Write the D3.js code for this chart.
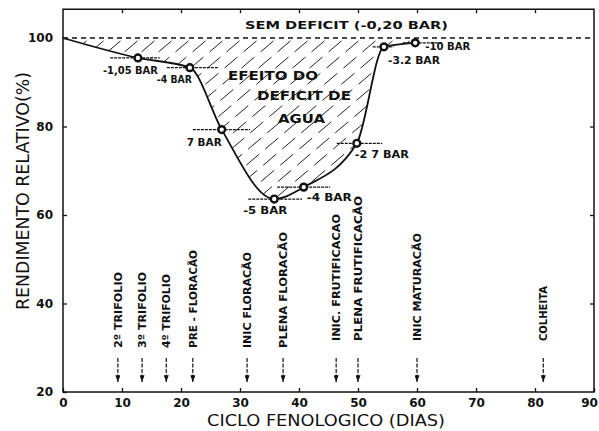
<!DOCTYPE html>
<html>
<head>
<meta charset="utf-8">
<script src="https://cdn.jsdelivr.net/npm/d3@7"></script>
<style>
  body { margin: 0; background: #fff; }
  svg { display: block; }
  text { font-family: "DejaVu Sans", sans-serif; fill: #111; }
</style>
</head>
<body>
<svg id="canvas" width="599" height="431"></svg>
<script>
// curva de rendimento relativo x ciclo (dias)
const dias = [0, 12.7, 21.5, 26.9, 35.8, 40.8, 49.8, 54.4, 59.7]
const rendimento = [100, 95.5, 93.3, 79.3, 63.6, 66.3, 76.2, 98.0, 98.9]
const potencial = ["", "-1,05 BAR", "-4 BAR", "7 BAR", "-5 BAR", "-4 BAR", "-2 7 BAR", "-3.2 BAR", "-10 BAR"]
const faixaIni = [null, 8.0, 17.6, 22.0, 31.4, 36.3, 46.4, 52.5, 57.6]
const faixaFim = [null, 16.4, 26.3, 31.7, 40.5, 45.3, 54.1, 56.0, 64.2]

// estadios fenologicos
const estadioDia = [9.3, 13.4, 17.5, 22.0, 31.2, 37.3, 46.3, 50.0, 60.0, 81.4]
const estadioNome = ["2º TRIFOLIO", "3º TRIFOLIO", "4º TRIFOLIO", "PRE - FLORACÃO", "INIC FLORACÃO",
    "PLENA FLORACÃO", "INIC. FRUTIFICACAO", "PLENA FRUTIFICACÃO", "INIC MATURACÃO", "COLHEITA"]

const xTicks = [0, 10, 20, 30, 40, 50, 60, 70, 80, 90]
const yTicks = [20, 40, 60, 80, 100]

// layout of the labels (offsets from the point, text widths)
const labelLayout = [null, [-7.5, 16, 55], [-15.5, 15, 35], [-17.5, 16, 35], [-9, 15, 44],
    [25.5, 14, 45], [25, 15, 54], [30, 17, 52], [32.5, 7, 45]]
const stageLen = [76, 76, 74, 98, 96, 116, 127, 145, 108, 55]

const svg = d3.select("#canvas")

const x = d3.scaleLinear().domain([0, 90]).range([63, 594])
const y = d3.scaleLinear().domain([20, 100]).range([392, 38])
const yTop = 106.5

const pts = dias.map((d, i) => ({ d: d, v: rendimento[i], i: i }))

// hatch region
svg.append("clipPath").attr("id", "clipDef")
    .append("path")
    .attr("d", d3.area().curve(d3.curveMonotoneX)
        .x(p => x(p.d)).y0(y(100)).y1(p => y(p.v))(pts))

const hatch = svg.append("g").attr("clip-path", "url(#clipDef)")
for (let k = -250; k < 450; k += 17) {
    hatch.append("line")
        .attr("x1", 63 + k).attr("y1", 230)
        .attr("x2", 63 + k + 230).attr("y2", 230 - 230 * 0.85)
        .attr("stroke", "#222").attr("stroke-width", 1)
        .attr("stroke-dasharray", "17,8")
}

// dashed line at 100%
svg.append("line")
    .attr("x1", x(0)).attr("x2", x(90))
    .attr("y1", y(100)).attr("y2", y(100))
    .attr("stroke", "#111").attr("stroke-width", 1.4)
    .attr("stroke-dasharray", "5,4")

// frame
svg.append("rect")
    .attr("x", x(0)).attr("y", y(yTop))
    .attr("width", x(90) - x(0)).attr("height", y(20) - y(yTop))
    .attr("fill", "none").attr("stroke", "#111").attr("stroke-width", 1.5)

// axes
const gx = svg.append("g").attr("transform", "translate(0," + y(20) + ")")
    .call(d3.axisBottom(x).tickValues(xTicks).tickSize(-4).tickSizeOuter(0).tickPadding(6))
const gy = svg.append("g").attr("transform", "translate(" + x(0) + ",0)")
    .call(d3.axisLeft(y).tickValues(yTicks).tickSize(-4).tickSizeOuter(0).tickPadding(10))
const gxt = svg.append("g").attr("transform", "translate(0," + y(yTop) + ")")
    .call(d3.axisTop(x).tickValues(xTicks.slice(1, -1)).tickSize(-4).tickSizeOuter(0).tickFormat(""))
const gyr = svg.append("g").attr("transform", "translate(" + x(90) + ",0)")
    .call(d3.axisRight(y).tickValues(yTicks.slice(1, -1)).tickSize(-4).tickSizeOuter(0).tickFormat(""))

;[gx, gy, gxt, gyr].forEach(g => {
    g.select(".domain").remove()
    g.selectAll("line").attr("stroke", "#111").attr("stroke-width", 1.3)
    g.selectAll("text").style("font-family", "DejaVu Sans").style("font-size", "12px")
        .style("font-weight", "bold").attr("fill", "#111")
})
gx.selectAll(".tick").filter(d => d === 90).select("text").attr("dx", -5)

// error bars
svg.selectAll(".faixa")
    .data(pts.filter(p => faixaIni[p.i] !== null))
    .enter().append("line")
    .attr("class", "faixa")
    .attr("x1", p => x(faixaIni[p.i])).attr("x2", p => x(faixaFim[p.i]))
    .attr("y1", p => y(p.v)).attr("y2", p => y(p.v))
    .attr("stroke", "#111").attr("stroke-width", 1.2)
    .attr("stroke-dasharray", "3,1")

// curve
svg.append("path")
    .attr("d", d3.line().curve(d3.curveMonotoneX).x(p => x(p.d)).y(p => y(p.v))(pts))
    .attr("fill", "none").attr("stroke", "#111").attr("stroke-width", 1.8)

svg.selectAll(".ponto")
    .data(pts.slice(1))
    .enter().append("circle")
    .attr("class", "ponto")
    .attr("cx", p => x(p.d)).attr("cy", p => y(p.v))
    .attr("r", 3.4)
    .attr("fill", "#fff").attr("stroke", "#111").attr("stroke-width", 2.4)

svg.selectAll(".pot")
    .data(pts.slice(1))
    .enter().append("text")
    .attr("class", "pot")
    .attr("x", p => x(p.d) + labelLayout[p.i][0] - labelLayout[p.i][2] / 2)
    .attr("y", p => y(p.v) + labelLayout[p.i][1])
    .attr("textLength", p => labelLayout[p.i][2])
    .attr("lengthAdjust", "spacingAndGlyphs")
    .style("font-size", "10px").style("font-weight", "bold")
    .text(p => potencial[p.i])

// texts
const txt = (s, x0, x1, yb, size) => svg.append("text")
    .attr("x", x0).attr("y", yb)
    .attr("textLength", x1 - x0).attr("lengthAdjust", "spacingAndGlyphs")
    .style("font-size", size + "px").style("font-weight", "bold")
    .text(s)

txt("SEM DEFICIT (-0,20 BAR)", 245, 448, 29, 11)
txt("EFEITO DO", 228, 318, 80, 13)
txt("DEFICIT DE", 257, 351, 100, 13)
txt("AGUA", 278, 325, 123, 13)

svg.append("text")
    .attr("transform", "translate(29,310) rotate(-90)")
    .attr("textLength", 238).attr("lengthAdjust", "spacingAndGlyphs")
    .style("font-size", "17px")
    .text("RENDIMENTO RELATIVO(%)")

txt("CICLO FENOLOGICO (DIAS)", 207, 445, 426, 16).style("font-weight", "normal")

// phenological stages
svg.append("defs").append("marker")
    .attr("id", "seta").attr("viewBox", "0 0 8 6")
    .attr("refX", 8).attr("refY", 3)
    .attr("markerWidth", 7).attr("markerHeight", 5)
    .attr("markerUnits", "userSpaceOnUse")
    .attr("orient", "auto")
    .append("path").attr("d", "M0,0 L8,3 L0,6 Z").attr("fill", "#111")

estadioDia.forEach((d, i) => {
    const sx = x(d)
    const bottom = i < 6 ? 348 : 341
    svg.append("text")
        .attr("transform", "translate(" + (sx + 4) + "," + bottom + ") rotate(-90)")
        .attr("textLength", stageLen[i]).attr("lengthAdjust", "spacingAndGlyphs")
        .style("font-size", "10px").style("font-weight", "bold")
        .text(estadioNome[i])
    svg.append("line")
        .attr("x1", sx).attr("x2", sx)
        .attr("y1", 358).attr("y2", 382)
        .attr("stroke", "#111").attr("stroke-width", 1.2)
        .attr("stroke-dasharray", "4,1.5")
        .attr("marker-end", "url(#seta)")
})
</script>
</body>
</html>
